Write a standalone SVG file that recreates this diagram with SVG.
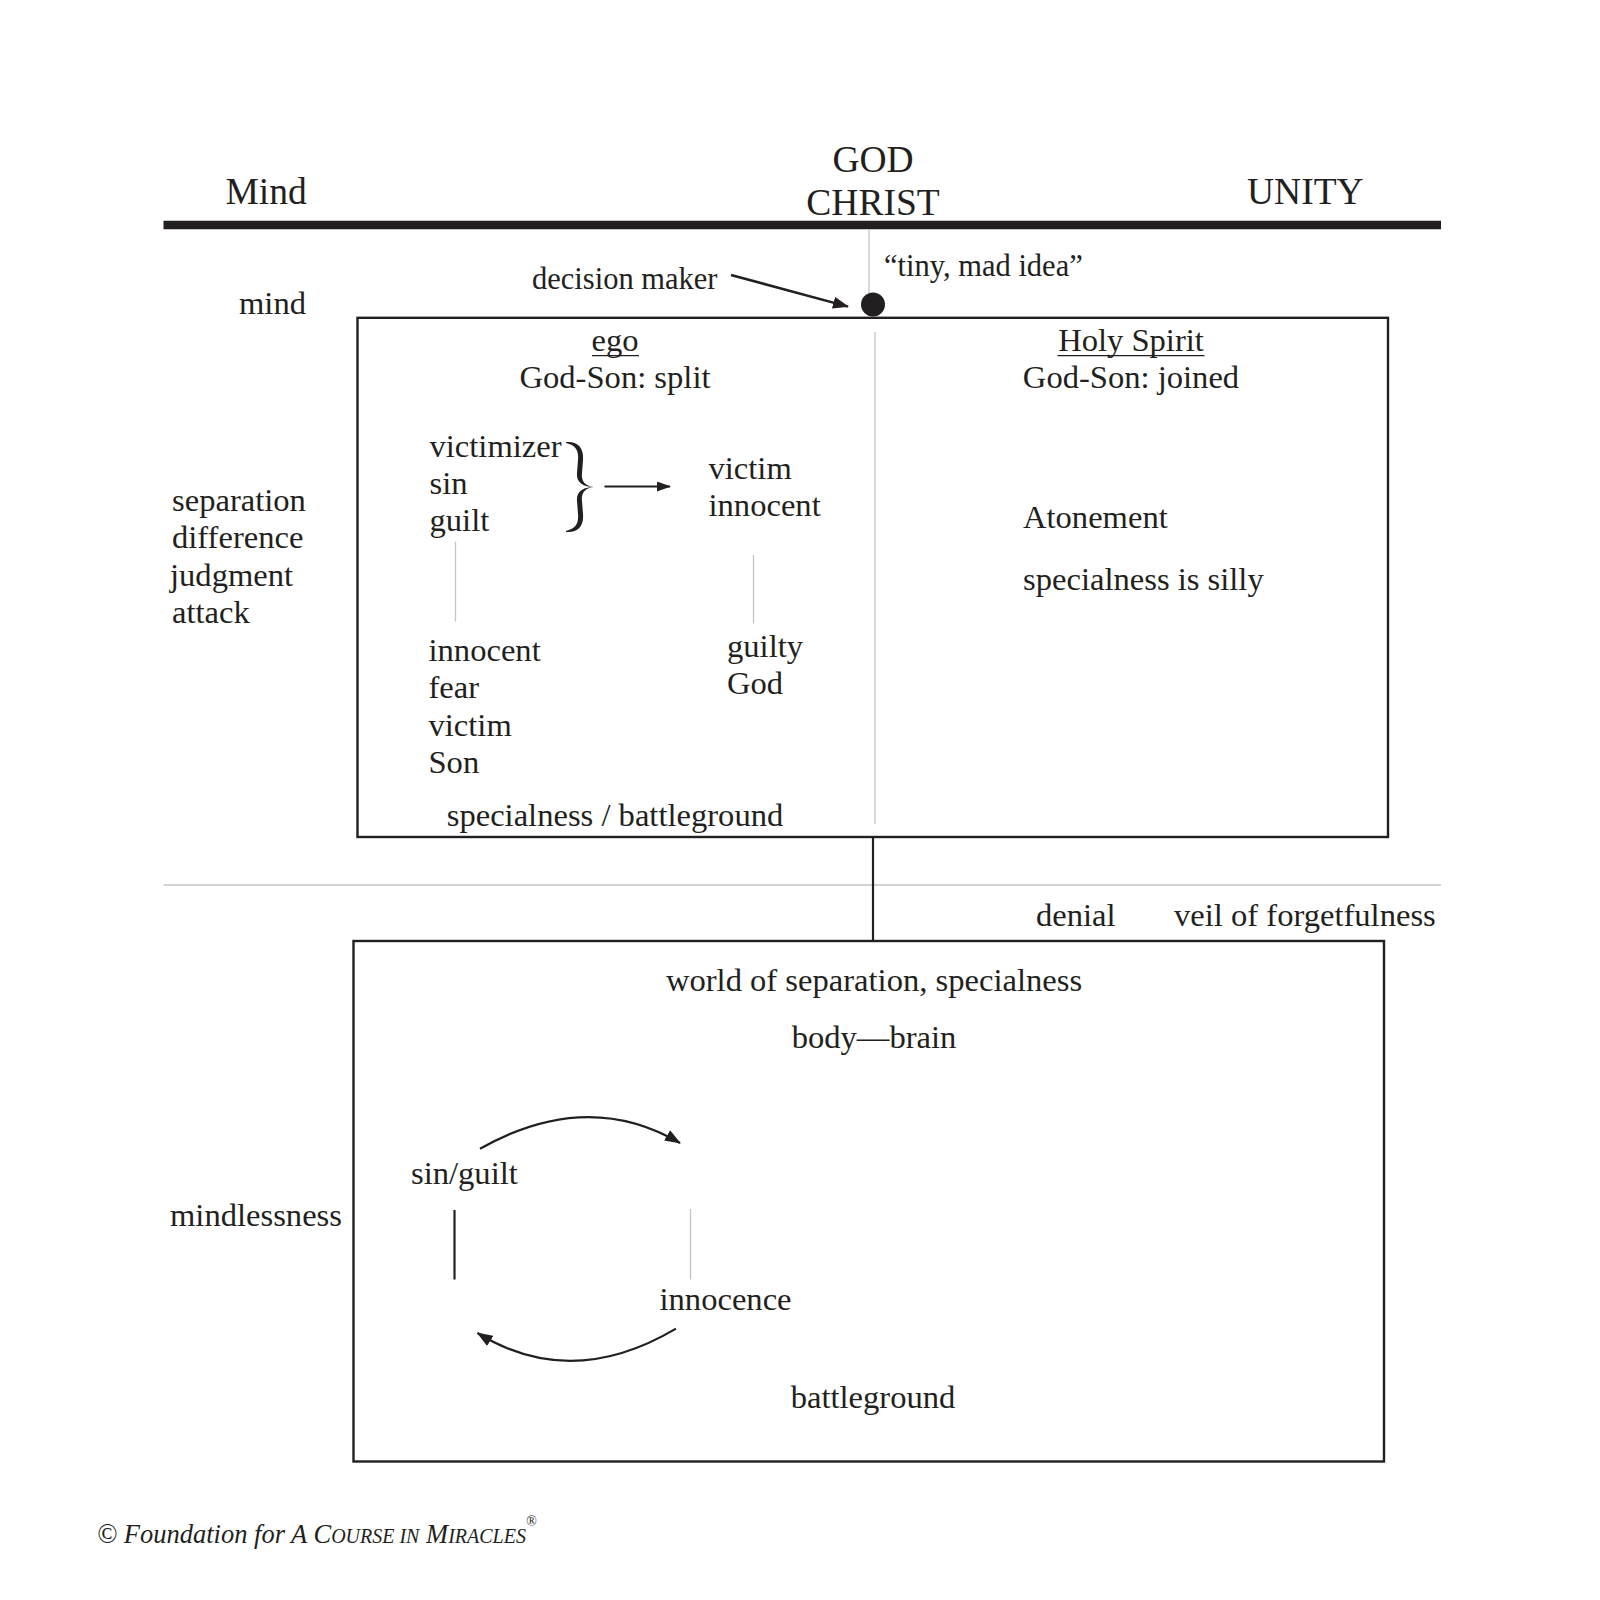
<svg xmlns="http://www.w3.org/2000/svg" width="1600" height="1600" viewBox="0 0 1600 1600">
<defs>
<style>
text{font-family:"Liberation Serif","Times New Roman",serif;fill:#231f20;}
.h{font-size:37.5px;}
.b{font-size:32.6px;}
.s{font-size:30.5px;}
.c{text-anchor:middle;}
.e{text-anchor:end;}
.dark{stroke:#231f20;fill:none;stroke-width:2.2;}
.gray{stroke:#c4c4c4;fill:none;stroke-width:1.3;}
.box{stroke:#231f20;fill:none;stroke-width:2.4;}
</style>
<marker id="ah" viewBox="0 0 16 12" refX="15" refY="6" markerWidth="16" markerHeight="12" markerUnits="userSpaceOnUse" orient="auto">
<path d="M0,0 L16,6 L0,12 z" fill="#231f20"/>
</marker>
<marker id="ahs" viewBox="0 0 14 10" refX="13" refY="5" markerWidth="14" markerHeight="10" markerUnits="userSpaceOnUse" orient="auto">
<path d="M0,0 L14,5 L0,10 z" fill="#231f20"/>
</marker>
</defs>
<rect width="1600" height="1600" fill="#fff"/>

<g id="header">
<line x1="163.5" y1="225" x2="1441" y2="225" stroke="#231f20" stroke-width="8.5"/>
<text class="h" x="225.5" y="204.4">Mind</text>
<text class="h c" x="873" y="171.7">GOD</text>
<text class="h c" x="873" y="214.6">CHRIST</text>
<text class="h" x="1247" y="204.4">UNITY</text>
</g>

<g id="levels">
<text class="b e" x="306" y="313.5">mind</text>
<text class="b" x="172" y="511">separation</text>
<text class="b" x="172" y="548">difference</text>
<text class="b" x="170" y="585.5">judgment</text>
<text class="b" x="172" y="622.5">attack</text>
<text class="b" x="170" y="1226.4">mindlessness</text>
</g>

<g id="decision-maker">
<line class="gray" x1="869" y1="229" x2="869" y2="296"/>
<circle cx="873" cy="304.5" r="12" fill="#231f20"/>
<text class="s" x="532" y="289.2">decision maker</text>
<text class="s" x="884" y="276">“tiny, mad idea”</text>
</g>

<g id="mind-box">
<rect class="box" x="357.5" y="317.8" width="1030.5" height="519.2"/>
<line class="gray" x1="875" y1="332" x2="875" y2="824"/>
</g>

<g id="ego">
<text class="b c" x="615" y="350.5">ego</text>
<line x1="592" y1="355.6" x2="639" y2="355.6" stroke="#231f20" stroke-width="1.4"/>
<text class="b c" x="615" y="388.4">God-Son: split</text>
<text class="b" x="429.5" y="456.5">victimizer</text>
<text class="b" x="429.5" y="494">sin</text>
<text class="b" x="429.5" y="531">guilt</text>
<path d="M566,442 C578,441 584,448 583,460 L582,473 C581,481 585,486 594,487 C584,487 576,483 577,473 L578,460 C579,450 575,445 566,443 Z" fill="#231f20"/>
<path d="M566,532 C578,533 584,526 583,514 L582,501 C581,493 585,488 594,487 C584,487 576,491 577,501 L578,514 C579,524 575,529 566,531 Z" fill="#231f20"/>
<text class="b" x="708.5" y="479.3">victim</text>
<text class="b" x="708.5" y="516">innocent</text>
<line class="gray" x1="455.5" y1="541.7" x2="455.5" y2="621.4"/>
<line class="gray" x1="753.5" y1="555" x2="753.5" y2="623.4"/>
<text class="b" x="428.5" y="661.2">innocent</text>
<text class="b" x="428.5" y="698.3">fear</text>
<text class="b" x="428.5" y="735.8">victim</text>
<text class="b" x="428.5" y="772.6">Son</text>
<text class="b" x="727" y="657.1">guilty</text>
<text class="b" x="727" y="694">God</text>
<text class="b c" x="615" y="825.8">specialness / battleground</text>
</g>

<g id="holy-spirit">
<text class="b c" x="1131" y="350.5">Holy Spirit</text>
<line x1="1057.5" y1="355.6" x2="1204.5" y2="355.6" stroke="#231f20" stroke-width="1.4"/>
<text class="b c" x="1131" y="388.4">God-Son: joined</text>
<text class="b" x="1023" y="528.4">Atonement</text>
<text class="b" x="1023" y="589.7">specialness is silly</text>
</g>

<g id="veil">
<line class="gray" x1="163.5" y1="885" x2="1441" y2="885"/>
<text class="b" x="1036" y="926">denial</text>
<text class="b" x="1174" y="926">veil of forgetfulness</text>
</g>

<g id="world-box">
<rect class="box" x="353.5" y="941" width="1030.5" height="520.5"/>
<text class="b c" x="874" y="991.3">world of separation, specialness</text>
<text class="b c" x="874" y="1047.5">body—brain</text>
<text class="b" x="411" y="1184">sin/guilt</text>
<text class="b" x="659.5" y="1309.5">innocence</text>
<text class="b c" x="873" y="1408">battleground</text>
</g>

<g id="connectors">
<line x1="731" y1="275" x2="848" y2="306.6" stroke="#231f20" stroke-width="2.5" marker-end="url(#ah)"/>
<line x1="604.5" y1="486.5" x2="670" y2="486.5" stroke="#231f20" stroke-width="2.2" marker-end="url(#ahs)"/>
<line class="dark" x1="873" y1="837" x2="873" y2="941"/>
<path class="dark" d="M480,1148.7 Q587,1088.4 680,1143" marker-end="url(#ah)"/>
<path class="dark" d="M676,1328.6 Q571,1390.8 477.5,1333" marker-end="url(#ah)"/>
<line class="dark" x1="454.5" y1="1210" x2="454.5" y2="1279.5"/>
<line class="gray" x1="690.5" y1="1209" x2="690.5" y2="1279.5"/>
</g>

<g id="copyright">
<text x="97" y="1543" font-size="26.5" font-style="italic">© Foundation for A C<tspan font-size="20">OURSE IN</tspan> M<tspan font-size="20">IRACLES</tspan><tspan font-size="14" dy="-17">®</tspan></text>
</g>
</svg>
